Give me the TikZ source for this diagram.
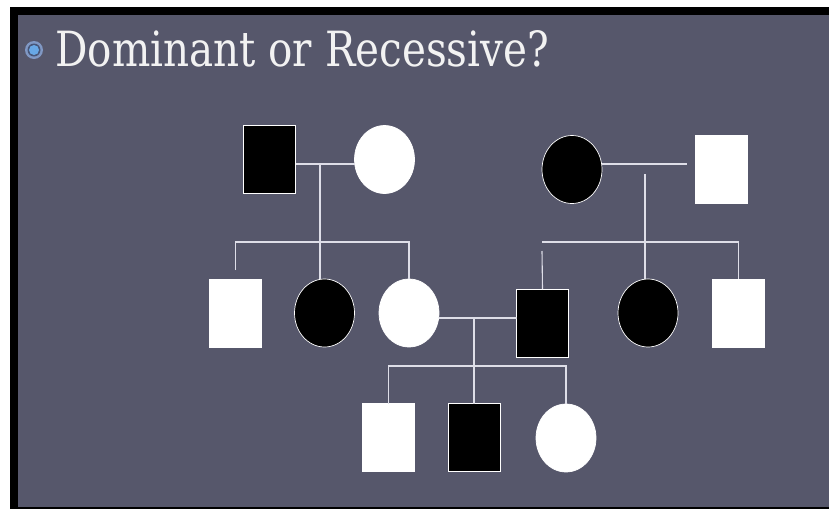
\documentclass[tikz,border=0pt]{standalone}
\usepackage{fontspec}
\usepackage{graphicx}
\usepackage{tikz}
\usetikzlibrary{positioning,shapes.geometric}
\newfontfamily\slidefont{DejaVu Serif}
\definecolor{slate}{RGB}{86,87,107}
\definecolor{rule}{RGB}{222,222,232}
\definecolor{bulletblue}{RGB}{104,168,230}
\definecolor{bulletring}{RGB}{128,152,196}
\definecolor{bulletgap}{RGB}{72,86,120}

\begin{document}
\begin{tikzpicture}[
    x=1pt, y=-1pt,
    male/.style={
      rectangle,
      draw=white,
      line width=0.7pt,
      minimum width=52pt,
      minimum height=68pt,
      inner sep=0pt,
      outer sep=0pt
    },
    female/.style={
      ellipse,
      draw=white,
      line width=0.7pt,
      minimum width=60pt,
      minimum height=68pt,
      inner sep=0pt,
      outer sep=0pt
    },
    affected/.style={fill=black},
    unaffected/.style={fill=white},
    dot/.style={circle,inner sep=0pt,outer sep=0pt},
    line/.style={draw=rule, line width=1.1pt}]

    % Slide frame and background.
    \fill[white] (0,0) rectangle (829,509);
    \fill[black] (10,7) rectangle (829,509);
    \fill[slate] (18,15) rectangle (829,507);

    % Title with its bullet.
    \node[dot,fill=bulletring,minimum size=18pt] (bullet) at (34,50) {};
    \node[dot,fill=bulletgap,minimum size=13pt] at (bullet) {};
    \node[dot,fill=bulletblue,minimum size=10pt] at (bullet) {};
    \node[anchor=base west,inner sep=0pt,text=white!95!black] (title) at (55,66)
      {\resizebox{494pt}{36pt}{\slidefont Dominant or Recessive?}};

    % First generation.
    \node[male,affected]     (I1) at (269.5,159.5) {};
    \node[female,unaffected] (I2) at (384.5,159.5) {};
    \node[female,affected]   (I3) at (572,169.5) {};
    \node[male,unaffected]   (I4) at (721.5,169) {};

    % Second generation.
    \node[male,unaffected]   (II1) at (235.5,313) {};
    \node[female,affected]   (II2) at (324.5,313) {};
    \node[female,unaffected] (II3) at (409,313) {};
    \node[male,affected]     (II4) at (542.5,323) {};
    \node[female,affected]   (II5) at (648,313) {};
    \node[male,unaffected]   (II6) at (738.5,313) {};

    % Third generation.
    \node[male,unaffected]   (III1) at (388.5,437.5) {};
    \node[male,affected]     (III2) at (474,437.5) {};
    \node[female,unaffected] (III3) at (566,438) {};

    % Left couple and their children.
    \coordinate (m1) at (320,164);
    \coordinate (s1) at (320,242);
    \draw[line] (I1.east |- m1) -- (I2.west |- m1);
    \draw[line] (m1) -- (m1 |- II2.north);
    \draw[line] ([yshift=9pt]II1.north) |- (s1) -| (II3.north);

    % Right couple and their children.
    \coordinate (m2) at (645,164);
    \coordinate (s2) at (645,242);
    \coordinate (k2) at (542,251);
    \draw[line,shorten >=9pt] (I3.east |- m2) -- (I4.west |- m2);
    \draw[line] ([yshift=-10pt]m2) -- (m2 |- II5.north);
    \draw[line] (k2 |- s2) -| (II6.north);
    \draw[line] (k2) -- (II4.north);

    % Second generation couple and their children.
    \coordinate (m3) at (474,318);
    \coordinate (s3) at (474,366);
    \draw[line] (II3.east |- m3) -- (II4.west |- m3);
    \draw[line] (m3) -- (III2.north);
    \draw[line] (III1.north) |- (s3) -| (III3.north);
  \end{tikzpicture}
\end{document}
